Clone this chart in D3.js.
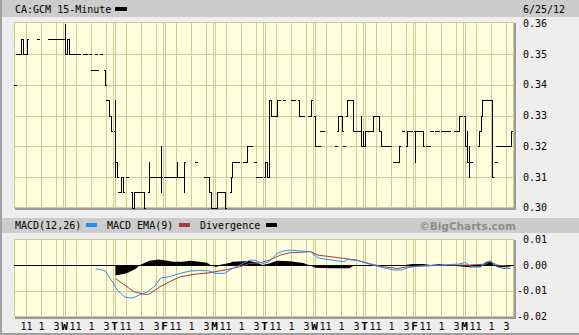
<!DOCTYPE html>
<html>
<head>
<meta charset="utf-8">
<script src="https://cdn.jsdelivr.net/npm/d3@7"></script>
<style>
  body { margin: 0; background: #eeeeee; }
  svg { display: block; font-family: "DejaVu Sans Mono", monospace; font-size: 10px; }
</style>
</head>
<body>
<div id="chart"></div>
<script>
// ---- data ----
const symbolTitle = "CA:GCM 15-Minute";
const dateLabel = "6/25/12";
const dayLetters = ["", "W", "T", "F", "M", "T", "W", "T", "F", "M"];
const hourTicks = [11, 13, 15];
const hourLabels = ["11", "1", "3"];
const priceTicks = [0.30, 0.31, 0.32, 0.33, 0.34, 0.35, 0.36];
const macdTicks = [-0.02, -0.01, 0.00, 0.01];
const barsPerDay = 26;

// 15-minute bars: [day, slot, open, high, low, close]
const priceBars = [
  [0,0,.34,.34,.34,.34],[0,1,.35,.35,.35,.35],[0,2,.35,.35,.35,.35],[0,3,.35,.355,.35,.355],
  [0,4,.355,.355,.35,.35],[0,5,.35,.35,.35,.35],[0,6,.35,.355,.35,.355],[0,12,.355,.355,.355,.355],
  [0,18,.355,.355,.355,.355],[0,19,.355,.355,.355,.355],[0,20,.355,.355,.355,.355],[0,21,.355,.355,.355,.355],
  [0,22,.355,.355,.355,.355],[0,23,.355,.355,.355,.355],[0,24,.355,.355,.355,.355],[0,25,.355,.355,.355,.355],
  [1,0,.355,.36,.35,.35],[1,1,.35,.355,.35,.355],[1,2,.355,.355,.35,.35],[1,3,.35,.35,.35,.35],
  [1,4,.35,.35,.35,.35],[1,5,.35,.35,.35,.35],[1,6,.35,.35,.35,.35],[1,7,.35,.35,.35,.35],
  [1,10,.35,.35,.35,.35],[1,11,.35,.35,.35,.35],[1,13,.35,.35,.35,.35],[1,14,.345,.345,.345,.345],
  [1,15,.345,.345,.345,.345],[1,16,.35,.35,.35,.35],[1,17,.345,.345,.345,.345],[1,19,.35,.35,.35,.35],
  [1,21,.345,.345,.34,.34],[1,22,.335,.335,.335,.335],[1,23,.335,.335,.33,.33],[1,24,.33,.33,.325,.325],
  [2,0,.325,.335,.31,.315],[2,1,.315,.315,.31,.31],[2,2,.305,.305,.305,.305],[2,3,.305,.31,.305,.31],
  [2,4,.31,.31,.305,.305],[2,6,.31,.31,.31,.31],[2,9,.305,.305,.30,.30],[2,10,.30,.305,.30,.305],
  [2,11,.305,.305,.305,.305],[2,12,.305,.305,.305,.305],[2,13,.305,.305,.305,.305],[2,14,.305,.305,.305,.305],
  [2,15,.305,.305,.30,.30],[2,18,.305,.315,.305,.31],[2,19,.31,.31,.31,.31],[2,20,.31,.31,.31,.31],
  [2,21,.31,.31,.31,.31],[2,22,.31,.31,.31,.31],[2,23,.31,.31,.31,.31],[2,24,.31,.32,.305,.31],
  [3,0,.31,.31,.31,.31],[3,1,.31,.31,.31,.31],[3,2,.31,.31,.31,.31],[3,3,.31,.31,.31,.31],
  [3,4,.31,.31,.31,.31],[3,5,.31,.31,.31,.31],[3,6,.31,.315,.31,.31],[3,7,.31,.31,.31,.31],
  [3,8,.31,.31,.31,.31],[3,10,.31,.315,.305,.315],[3,16,.315,.315,.315,.315],[3,21,.31,.31,.31,.31],
  [3,22,.31,.31,.31,.31],[3,23,.31,.31,.305,.305],[3,24,.305,.305,.30,.30],[3,25,.30,.30,.30,.30],
  [4,0,.30,.30,.30,.30],[4,1,.30,.305,.30,.305],[4,2,.305,.305,.305,.305],[4,3,.305,.305,.305,.305],
  [4,4,.305,.305,.305,.305],[4,5,.305,.305,.30,.30],[4,8,.305,.31,.305,.31],[4,9,.31,.315,.31,.315],
  [4,10,.315,.315,.315,.315],[4,11,.315,.315,.315,.315],[4,12,.315,.315,.315,.315],[4,15,.315,.315,.315,.315],
  [4,16,.315,.315,.315,.315],[4,17,.315,.32,.315,.32],[4,18,.32,.32,.32,.32],[4,19,.32,.32,.32,.32],
  [4,21,.315,.315,.315,.315],[4,22,.31,.31,.31,.31],[4,23,.31,.31,.31,.31],[4,24,.31,.31,.31,.31],
  [5,0,.31,.315,.31,.315],[5,1,.315,.315,.31,.31],[5,2,.31,.335,.31,.335],[5,3,.335,.335,.33,.33],
  [5,4,.33,.33,.33,.33],[5,5,.33,.33,.33,.33],[5,6,.33,.335,.33,.335],[5,7,.335,.335,.335,.335],
  [5,10,.335,.335,.335,.335],[5,14,.335,.335,.335,.335],[5,15,.335,.335,.335,.335],[5,18,.335,.335,.33,.33],
  [5,19,.33,.33,.33,.33],[5,20,.33,.33,.33,.33],[5,23,.33,.33,.33,.33],[5,24,.33,.335,.33,.335],
  [6,0,.33,.33,.32,.32],[6,1,.32,.32,.32,.32],[6,2,.32,.32,.32,.32],[6,3,.325,.325,.325,.325],
  [6,4,.325,.325,.325,.325],[6,11,.32,.32,.32,.32],[6,12,.325,.33,.325,.33],[6,13,.33,.33,.33,.33],
  [6,14,.33,.33,.325,.325],[6,15,.32,.32,.32,.32],[6,17,.33,.335,.33,.335],[6,18,.335,.335,.335,.335],
  [6,19,.335,.335,.335,.335],[6,20,.335,.335,.325,.325],[6,21,.325,.325,.325,.325],[6,22,.325,.325,.325,.325],
  [6,23,.325,.325,.325,.325],[6,24,.325,.33,.32,.32],[6,25,.32,.325,.32,.32],
  [7,0,.32,.325,.32,.325],[7,1,.325,.325,.325,.325],[7,2,.325,.325,.325,.325],[7,3,.325,.325,.325,.325],
  [7,4,.325,.33,.325,.33],[7,5,.33,.33,.33,.33],[7,6,.33,.33,.33,.33],[7,7,.33,.33,.325,.325],
  [7,8,.325,.325,.32,.32],[7,9,.32,.32,.32,.32],[7,10,.32,.32,.32,.32],[7,11,.32,.32,.32,.32],
  [7,12,.32,.32,.32,.32],[7,13,.32,.32,.32,.32],[7,15,.315,.315,.315,.315],[7,17,.315,.315,.315,.315],
  [7,18,.315,.32,.315,.32],[7,20,.325,.325,.325,.325],[7,22,.32,.325,.32,.325],[7,23,.325,.325,.325,.325],
  [7,24,.325,.325,.325,.325],
  [8,0,.325,.325,.315,.325],[8,1,.325,.325,.325,.325],[8,2,.325,.325,.325,.325],[8,3,.325,.325,.325,.325],
  [8,4,.325,.325,.32,.32],[8,6,.32,.32,.32,.32],[8,7,.32,.32,.32,.32],[8,8,.325,.325,.325,.325],
  [8,9,.325,.325,.325,.325],[8,11,.325,.325,.325,.325],[8,12,.325,.325,.325,.325],[8,14,.325,.325,.325,.325],
  [8,15,.325,.325,.325,.325],[8,17,.325,.325,.325,.325],[8,18,.325,.325,.325,.325],[8,21,.325,.325,.325,.325],
  [8,22,.325,.325,.325,.325],[8,23,.325,.33,.325,.33],[8,24,.33,.33,.33,.33],
  [9,0,.33,.33,.32,.32],[9,1,.32,.325,.315,.315],[9,2,.315,.32,.31,.315],[9,3,.315,.315,.315,.315],
  [9,7,.32,.325,.32,.325],[9,8,.325,.33,.325,.33],[9,9,.33,.335,.33,.335],[9,10,.335,.335,.335,.335],
  [9,11,.335,.335,.335,.335],[9,12,.335,.335,.335,.335],[9,13,.335,.335,.335,.335],[9,14,.335,.335,.31,.31],
  [9,16,.315,.315,.315,.315],[9,17,.32,.32,.32,.32],[9,18,.32,.32,.32,.32],[9,19,.32,.32,.32,.32],
  [9,20,.32,.32,.32,.32],[9,21,.32,.32,.32,.32],[9,22,.32,.32,.32,.32],[9,23,.32,.32,.32,.32],
  [9,24,.32,.325,.32,.325]
];

// MACD panel, [bar number from start, value]
const macdLine = [
  [42,-.0015],[44,-.0016],[47,-.0022],[49,-.0045],[51,-.0065],[53,-.0097],[57,-.0124],[61,-.0128],
  [65,-.0115],[69,-.0103],[73,-.0081],[76,-.0050],[80,-.0045],[86,-.0032],[91,-.0023],[96,-.0021],
  [101,-.0022],[104,-.0032],[109,-.0032],[113,-.0013],[117,.0000],[122,.0019],[125,.0019],[129,.0006],
  [132,.0013],[136,.0045],[140,.0055],[143,.0058],[148,.0055],[154,.0052],[157,.0029],[162,.0022],
  [171,.0013],[173,.0022],[179,.0017],[183,.0006],[189,-.0006],[197,-.0019],[201,-.0019],[205,-.0009],
  [210,-.0004],[221,.0000],[231,.0004],[234,.0010],[237,-.0006],[242,-.0006],[246,.0013],[247,.0017],
  [251,-.0006],[254,-.0013],[258,-.0013]
];
const emaLine = [
  [52,-.0052],[57,-.0078],[62,-.0104],[68,-.0114],[70,-.0112],[75,-.0087],[80,-.0065],[86,-.0045],
  [94,-.0035],[101,-.0030],[109,-.0019],[117,-.0006],[122,.0006],[127,.0008],[132,.0019],[138,.0039],
  [143,.0048],[154,.0052],[157,.0039],[171,.0026],[178,.0019],[184,.0006],[191,-.0006],[199,-.0013],
  [205,-.0006],[212,-.0003],[230,.0000],[236,.0000],[245,.0004],[247,.0013],[251,.0000],[258,-.0006]
];
const divergence = [
  [52,-.0040],[58,-.0032],[63,-.0013],[65,.0000],[70,.0017],[75,.0022],[79,.0017],[82,.0013],
  [87,.0013],[91,.0017],[96,.0013],[100,.0009],[102,.0000],[104,-.0006],[105,-.0006],[106,.0000],
  [112,.0009],[113,.0013],[122,.0016],[126,.0009],[129,.0000],[132,.0006],[136,.0017],[143,.0015],
  [150,.0008],[153,.0000],[156,-.0010],[164,-.0012],[174,-.0012],[177,.0000],[182,.0000],[184,-.0004],
  [186,.0000],[189,-.0003],[192,.0000],[198,-.0003],[203,.0000],[207,.0004],[212,.0004],[216,.0000],
  [221,.0004],[224,.0000],[236,-.0008],[242,-.0008],[243,.0000],[245,.0013],[248,.0013],[249,.0000],
  [251,-.0008],[257,-.0008],[258,-.0004]
];

// ---- layout ----
const width = 579, height = 335;
const plot = { left: 14, right: 514 };
const pricePanel = { top: 22, bottom: 208 };
const macdPanel = { top: 239, bottom: 317 };
const gridColor = "#cccc99";

const svg = d3.select("#chart").append("svg").attr("width", width).attr("height", height);

const defs = svg.append("defs");
const pat = defs.append("pattern").attr("id", "dots").attr("width", 2).attr("height", 2)
  .attr("patternUnits", "userSpaceOnUse");
pat.append("rect").attr("width", 2).attr("height", 2).attr("fill", "#ffffcc");
pat.append("rect").attr("width", 1).attr("height", 1).attr("fill", "#fffff0");
pat.append("rect").attr("x", 1).attr("y", 1).attr("width", 1).attr("height", 1).attr("fill", "#fffff0");

svg.append("rect").attr("width", width).attr("height", height).attr("fill", "#eeeeee");

// scales
const xDay = d3.scaleLinear().domain([0, 10]).range([plot.left, plot.right]);
const xSlot = d3.scaleLinear().domain([0, barsPerDay]).range([0.5, 49.5]);
const yPrice = d3.scaleLinear().domain([0.30, 0.36]).range([207.7, 23.6]);
const yMacd = d3.scaleLinear().domain([-0.02, 0.01]).range([316.7, 239.3]);

const barX = (day, slot) => Math.round(xDay(day) + xSlot(slot + 0.5));
const seqX = n => xDay(Math.floor(n / barsPerDay)) + xSlot((n % barsPerDay) + 0.5);
const hourX = (day, h) => Math.round(xDay(day) + xSlot((h - 9.5) * 4)) + 0.5;

// header bars
svg.append("rect").attr("x", 0).attr("y", 0).attr("width", width).attr("height", 17).attr("fill", "#cccccc");
svg.append("rect").attr("x", 0).attr("y", 218).attr("width", width).attr("height", 15).attr("fill", "#cccccc");

svg.append("text").attr("x", 15).attr("y", 12.5).text(symbolTitle);
svg.append("rect").attr("x", 115).attr("y", 7).attr("width", 12).attr("height", 4).attr("fill", "#000");
svg.append("text").attr("x", 523).attr("y", 12.5).text(dateLabel);

// MACD legend
const legend = [
  { label: "MACD(12,26)", x: 15, sw: 86, color: "#1f8fff" },
  { label: "MACD EMA(9)", x: 107, sw: 179, color: "#a33b3b" },
  { label: "Divergence", x: 200, sw: 266, color: "#000000" }
];
legend.forEach(d => {
  svg.append("text").attr("x", d.x).attr("y", 229).text(d.label);
  svg.append("rect").attr("x", d.sw).attr("y", 223).attr("width", 11).attr("height", 4).attr("fill", d.color);
});
svg.append("text").attr("x", 516).attr("y", 229.5).attr("text-anchor", "end")
  .style("font-family", "'DejaVu Sans', sans-serif").style("font-weight", "bold").style("font-size", "10.5px")
  .attr("fill", "#8c8c8c").text("\u00a9BigCharts.com");

// panels
function panel(top, bottom) {
  const g = svg.append("g");
  g.append("rect").attr("x", plot.left + 1).attr("y", top + 1).attr("width", plot.right - plot.left + 1)
    .attr("height", bottom - top + 1).attr("fill", "#9a9a9a");
  g.append("rect").attr("x", plot.left).attr("y", top).attr("width", plot.right - plot.left)
    .attr("height", bottom - top).attr("fill", "url(#dots)");
  g.append("rect").attr("x", plot.left + 0.5).attr("y", top + 0.5).attr("width", plot.right - plot.left - 1)
    .attr("height", bottom - top - 1).attr("fill", "none").attr("stroke", gridColor);
  // vertical grid: hours and double day separators
  const vx = [];
  d3.range(10).forEach(d => {
    hourTicks.forEach(h => vx.push(hourX(d, h)));
    if (d > 0) { vx.push(Math.round(xDay(d)) - 0.5, Math.round(xDay(d)) + 1.5); }
  });
  g.selectAll(".v").data(vx).enter().append("line")
    .attr("x1", d => d).attr("x2", d => d).attr("y1", top).attr("y2", bottom)
    .attr("stroke", gridColor);
  return g;
}

const pg = panel(pricePanel.top, pricePanel.bottom);
pg.selectAll(".h").data(priceTicks.slice(1, -1)).enter().append("line")
  .attr("x1", plot.left).attr("x2", plot.right)
  .attr("y1", d => Math.round(yPrice(d)) + 0.5).attr("y2", d => Math.round(yPrice(d)) + 0.5)
  .attr("stroke", gridColor);

const mg = panel(macdPanel.top, macdPanel.bottom);
mg.append("line").attr("x1", plot.left).attr("x2", plot.right)
  .attr("y1", Math.round(yMacd(-0.01)) + 0.5).attr("y2", Math.round(yMacd(-0.01)) + 0.5)
  .attr("stroke", gridColor);

// clip
defs.append("clipPath").attr("id", "clipPrice").append("rect")
  .attr("x", plot.left).attr("y", pricePanel.top).attr("width", plot.right - plot.left)
  .attr("height", pricePanel.bottom - pricePanel.top + 1);
defs.append("clipPath").attr("id", "clipMacd").append("rect")
  .attr("x", plot.left).attr("y", macdPanel.top).attr("width", plot.right - plot.left)
  .attr("height", macdPanel.bottom - macdPanel.top);

// price bars (high-low line, open tick left, close tick right)
const bars = svg.append("g").attr("clip-path", "url(#clipPrice)").attr("fill", "#000");
const py = v => Math.round(yPrice(v));
priceBars.forEach(([day, slot, o, h, l, c]) => {
  const x = barX(day, slot);
  bars.append("rect").attr("x", x).attr("y", py(h)).attr("width", 1).attr("height", py(l) - py(h) + 1);
  bars.append("rect").attr("x", x - 1).attr("y", py(o)).attr("width", 1).attr("height", 1);
  bars.append("rect").attr("x", x + 1).attr("y", py(c)).attr("width", 1).attr("height", 1);
});

// MACD panel marks
const mcl = svg.append("g").attr("clip-path", "url(#clipMacd)");
mcl.append("path").datum(divergence)
  .attr("d", d3.area().x(d => seqX(d[0])).y0(yMacd(0)).y1(d => yMacd(d[1])))
  .attr("fill", "#000");
mcl.append("line").attr("x1", plot.left).attr("x2", plot.right)
  .attr("y1", Math.round(yMacd(0)) + 0.5).attr("y2", Math.round(yMacd(0)) + 0.5)
  .attr("stroke", "#000");
mcl.append("path").datum(emaLine)
  .attr("d", d3.line().x(d => seqX(d[0])).y(d => yMacd(d[1])))
  .attr("fill", "none").attr("stroke", "#a33b3b").attr("stroke-width", 1);
mcl.append("path").datum(macdLine)
  .attr("d", d3.line().x(d => seqX(d[0])).y(d => yMacd(d[1])))
  .attr("fill", "none").attr("stroke", "#2a8cf5").attr("stroke-width", 1);

// right axes
svg.selectAll(".pl").data(priceTicks).enter().append("text")
  .attr("x", 523).attr("y", d => yPrice(d) + 3.5).text(d => d.toFixed(2));
svg.selectAll(".ml").data(macdTicks).enter().append("text")
  .attr("x", d => d < 0 ? 517 : 523).attr("y", d => yMacd(d) + 3.5).text(d => d.toFixed(2));

// bottom time axis
d3.range(10).forEach(d => {
  if (dayLetters[d]) {
    svg.append("text").attr("x", Math.round(xDay(d)) + 0.5).attr("y", 329.5).attr("text-anchor", "middle")
      .style("font-weight", "bold").style("font-size", "11px").text(dayLetters[d]);
  }
  hourTicks.forEach((h, i) => {
    svg.append("text").attr("x", hourX(d, h) + (i === 0 && d > 0 ? -1 : 0)).attr("y", 329.5)
      .attr("text-anchor", "middle").text(hourLabels[i]);
  });
});

// outer frame
svg.append("rect").attr("x", 0).attr("y", 0).attr("width", 2).attr("height", height).attr("fill", "#a0a0a0");
svg.append("rect").attr("x", 0).attr("y", height - 2).attr("width", width).attr("height", 2).attr("fill", "#a0a0a0");
</script>
</body>
</html>
